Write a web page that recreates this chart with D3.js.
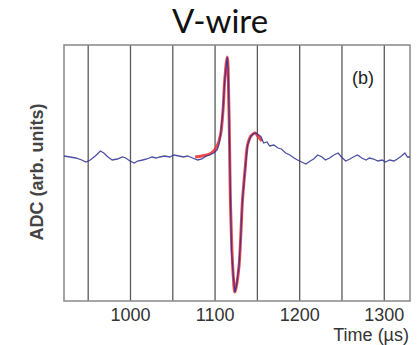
<!DOCTYPE html>
<html>
<head>
<meta charset="utf-8">
<script src="https://cdn.jsdelivr.net/npm/d3@7"></script>
<style>
  body { margin: 0; background: #fff; }
  svg { display: block; }
</style>
</head>
<body>
<div id="chart"></div>
<script>
// ADC trace (time in µs, ADC arbitrary units)
var traceTime = [922, 929, 936, 943, 948, 953, 959, 965, 969, 974, 979, 985, 991, 995, 1000,
  1005, 1009, 1015, 1020, 1026, 1031, 1035, 1041, 1047, 1052, 1058, 1063, 1068, 1074, 1080,
  1085, 1090, 1094, 1099, 1103, 1105, 1107, 1110, 1112, 1115, 1116, 1117, 1118, 1119, 1120,
  1122, 1124, 1126, 1129, 1131, 1133, 1136, 1139, 1143, 1148, 1151, 1155, 1158, 1162, 1165,
  1170, 1175, 1179, 1184, 1189, 1194, 1198, 1203, 1208, 1213, 1217, 1222, 1227, 1231, 1236,
  1241, 1246, 1250, 1255, 1260, 1264, 1269, 1274, 1279, 1283, 1288, 1293, 1298, 1302, 1307,
  1312, 1316, 1321, 1325, 1328, 1331];
var traceValue = [1, 0, -1, -3, -5, -3, 1, 6, 4, 0, -3, -2, 0, -1, -4,
  -6, -4, -3, -2, 0, -1, 0, 1, 0, 2, 1, 0, 1, -1, -3,
  -2, 1, 2, 4, 7, 12, 22, 47, 77, 100, 87, 47, -3, -53, -93,
  -118, -135, -128, -108, -78, -43, -13, 12, 21, 24, 23, 20, 14, 15, 11,
  12, 9, 8, 4, 2, -1, -3, -5, -7, -4, -2, 2, 0, -3, -1,
  2, 4, 0, -4, -2, 0, 2, -1, -3, -1, -2, -4, -3, -5, -3,
  -4, -2, 1, 4, 0, 0];

// fitted pulse (red)
var fitTime = [1077, 1085, 1094, 1099, 1103, 1107, 1110, 1112, 1115, 1117, 1119, 1122,
  1124, 1126, 1129, 1131, 1133, 1136, 1139, 1143, 1148, 1151, 1156];
var fitValue = [0, 1, 3, 6, 11, 22, 47, 77, 100, 47, -53, -118,
  -135, -128, -108, -78, -43, -13, 12, 21, 24, 21, 16];

var gridTimes = [950, 1000, 1050, 1100, 1150, 1200, 1250, 1300];

var width = 419,
    height = 345,
    margin = {top: 45, right: 9, bottom: 44, left: 64};

var svg = d3.select("#chart")
  .append("svg")
  .attr("width", width)
  .attr("height", height);

var innerW = width - margin.left - margin.right,
    innerH = height - margin.top - margin.bottom;

var x = d3.scaleLinear().domain([922, 1331]).range([0, innerW]);
var y = d3.scaleLinear().domain([-144, 112]).range([innerH, 0]);

var g = svg.append("g")
  .attr("transform", `translate(${margin.left},${margin.top})`);

// title
svg.append("text")
  .attr("x", 220)
  .attr("y", 33)
  .attr("text-anchor", "middle")
  .style("font-family", "Lato, 'Open Sans', sans-serif")
  .style("font-size", "33px")
  .style("fill", "#111")
  .text("V-wire");

// grid lines + x axis labels
var xAxis = d3.axisBottom(x)
  .tickValues(gridTimes)
  .tickSize(-innerH)
  .tickPadding(7)
  .tickFormat(d => d % 100 === 0 ? d : "");

var ax = g.append("g")
  .attr("transform", `translate(0,${innerH})`)
  .call(xAxis);
ax.select(".domain").remove();
ax.selectAll(".tick line")
  .attr("stroke", "#5a5a5a")
  .attr("stroke-width", 1.3);
ax.selectAll(".tick text")
  .style("font-family", "'Liberation Sans', Arial, sans-serif")
  .style("font-size", "18px")
  .style("fill", "#333");

// frame
g.append("rect")
  .attr("width", innerW)
  .attr("height", innerH)
  .attr("fill", "none")
  .attr("stroke", "#888")
  .attr("stroke-width", 1.5);

// fit curve
var fitLine = d3.line()
  .x((d, i) => x(fitTime[i]))
  .y(d => y(d))
  .curve(d3.curveCatmullRom);

g.append("path")
  .datum(fitValue)
  .attr("fill", "none")
  .attr("stroke", "#ec2a2e")
  .attr("stroke-width", 3)
  .attr("stroke-opacity", 0.85)
  .attr("d", fitLine);

// data trace
var traceLine = d3.line()
  .x((d, i) => x(traceTime[i]))
  .y(d => y(d));

g.append("path")
  .datum(traceValue)
  .attr("fill", "none")
  .attr("stroke", "#2e3192")
  .attr("stroke-width", 1.3)
  .attr("stroke-opacity", 0.85)
  .attr("d", traceLine);

// panel label
g.append("text")
  .attr("x", 288)
  .attr("y", 39)
  .style("font-family", "'Liberation Sans', Arial, sans-serif")
  .style("font-size", "18px")
  .style("fill", "#222")
  .text("(b)");

// axis titles
svg.append("text")
  .attr("x", 409)
  .attr("y", 341)
  .attr("text-anchor", "end")
  .style("font-family", "'Liberation Sans', Arial, sans-serif")
  .style("font-size", "18px")
  .style("fill", "#333")
  .text("Time (\u00b5s)");

svg.append("text")
  .attr("transform", "translate(43,172) rotate(-90)")
  .attr("text-anchor", "middle")
  .style("font-family", "'Liberation Sans', Arial, sans-serif")
  .style("font-size", "18px")
  .style("font-weight", "bold")
  .style("fill", "#444")
  .text("ADC (arb. units)");
</script>
</body>
</html>
